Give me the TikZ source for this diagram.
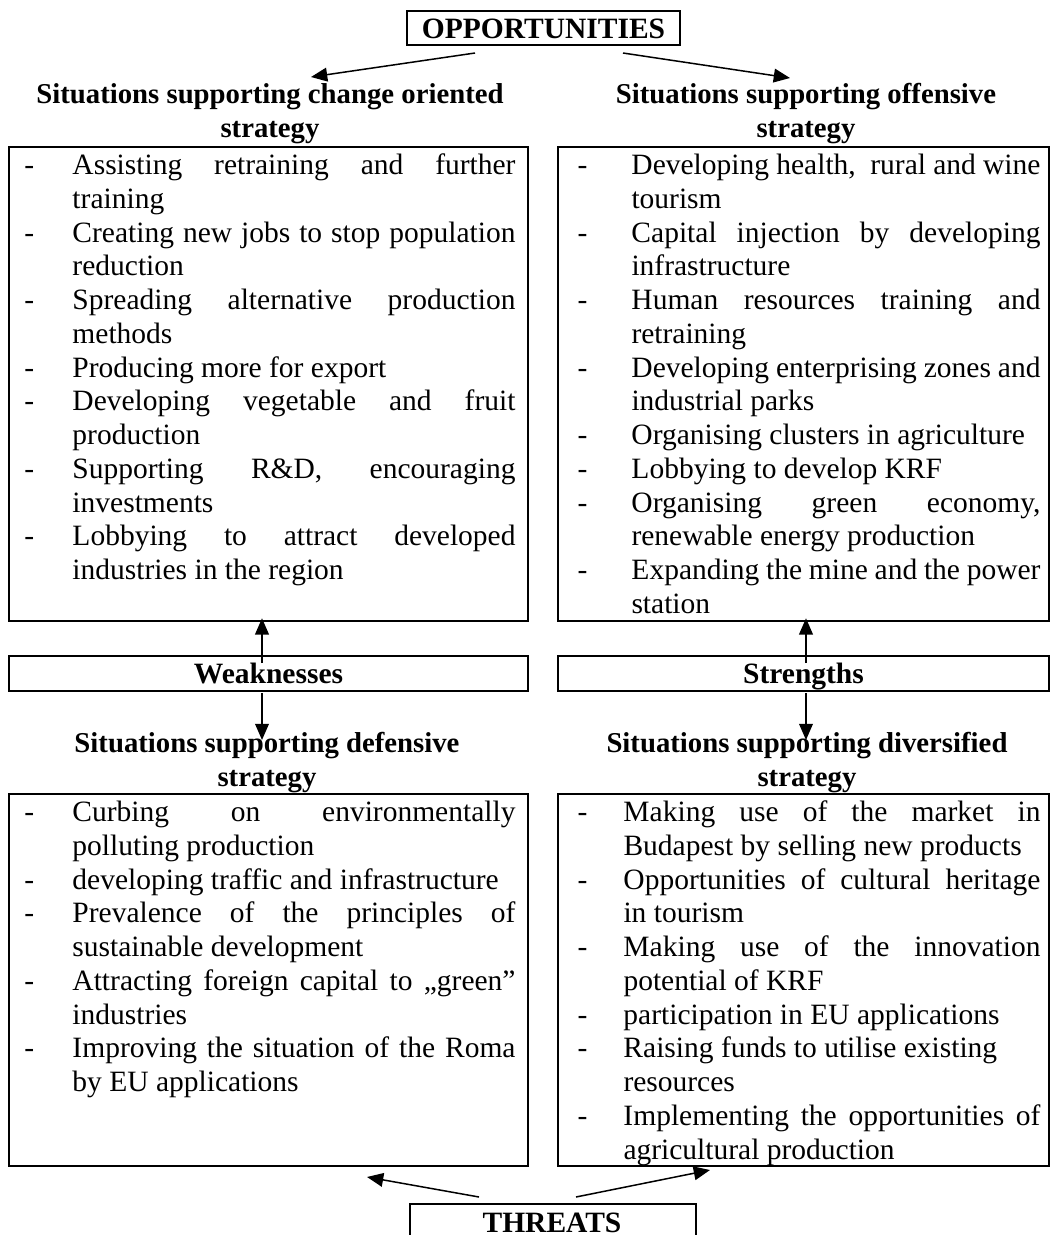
\documentclass[tikz,border=0pt]{standalone}
\usepackage{fontspec}
\setmainfont{Liberation Serif}
\usetikzlibrary{arrows.meta}
\newlength\tw \newlength\ind \newlength\dsh
\newcommand\Di{\strut\makebox[\ind][l]{\hspace*{\dsh}-}}
\newcommand\Ci{\strut\hspace*{\ind}}
\newcommand\J[1]{\makebox[\tw][s]{#1}}
\tikzset{
  box/.style={draw, line width=0.8pt, inner sep=0pt, anchor=north west},
  lbl/.style={font=\bfseries\fontsize{11.8}{13.5}\selectfont, text height=8pt, text depth=0pt, inner sep=0pt},
  lst/.style={anchor=north west, inner sep=0pt, align=left},
  lstA/.style={lst, font={\fontsize{11.8}{13.5}\selectfont\setlength\tw{177.2pt}\setlength\ind{25.6pt}\setlength\dsh{6.4pt}}},
  lstB/.style={lst, font={\fontsize{11.8}{13.5}\selectfont\setlength\tw{163.6pt}\setlength\ind{29.6pt}\setlength\dsh{8pt}}},
  lstC/.style={lst, font={\fontsize{11.8}{13.5}\selectfont\setlength\tw{166.8pt}\setlength\ind{26.4pt}\setlength\dsh{8pt}}},
  hdr/.style={anchor=north, inner sep=0pt, align=center, font=\bfseries\fontsize{11.5}{13.5}\selectfont},
  arr/.style={line width=0.6pt, -{Triangle[length=6.5pt,width=5.5pt]}}
}
\begin{document}
\begin{tikzpicture}[x=0.4pt,y=-0.4pt]
\useasboundingbox (0,0) rectangle (1050,1235);
\clip (0,0) rectangle (1050,1235);

% top label
\node[box, lbl, minimum width=109.2pt, minimum height=13.6pt] (opp) at (406,10) {OPPORTUNITIES};

% headers
\node[hdr] (h1) at (270,79.4) {\strut Situations supporting change oriented\\strategy};
\node[hdr] (h2) at (806,79.4) {\strut Situations supporting offensive\\strategy};
\node[hdr] (h3) at (267,728.4) {\strut Situations supporting defensive\\strategy};
\node[hdr] (h4) at (807,728.4) {\strut Situations supporting diversified\\strategy};

% boxes
\node[box, minimum width=207.6pt, minimum height=189.6pt] (tl) at (8,146) {};
\node[box, minimum width=196.4pt, minimum height=189.6pt] (tr) at (557,146) {};
\node[box, lbl, minimum width=207.6pt, minimum height=14pt] (wk) at (8,655) {Weaknesses};
\node[box, lbl, minimum width=196.4pt, minimum height=14pt] (st) at (557,655) {Strengths};
\node[box, minimum width=207.6pt, minimum height=148.8pt] (bl) at (8,793) {};
\node[box, minimum width=196.4pt, minimum height=148.8pt] (br) at (557,793) {};
\node[box, minimum width=114.4pt, minimum height=24pt] (thr) at (409,1203) {};
\node[lbl, anchor=base] (thrt) at (552,1232) {THREATS};

% list texts
\node[lstA] (tlt) at (8,150.4) {%
\Di\J{Assisting retraining and further}\\
\Ci training\\
\Di\J{Creating new jobs to stop population}\\
\Ci reduction\\
\Di\J{Spreading alternative production}\\
\Ci methods\\
\Di Producing more for export\\
\Di\J{Developing vegetable and fruit}\\
\Ci production\\
\Di\J{Supporting R\&D, encouraging}\\
\Ci investments\\
\Di\J{Lobbying to attract developed}\\
\Ci industries in the region};

\node[lstB] (trt) at (557,150.4) {%
\Di\J{Developing health,\ \ rural and wine}\\
\Ci tourism\\
\Di\J{Capital injection by developing}\\
\Ci infrastructure\\
\Di\J{Human resources training and}\\
\Ci retraining\\
\Di\J{Developing enterprising zones and}\\
\Ci industrial parks\\
\Di Organising clusters in agriculture\\
\Di Lobbying to develop KRF\\
\Di\J{Organising green economy,}\\
\Ci renewable energy production\\
\Di\J{Expanding the mine and the power}\\
\Ci station};

\node[lstA] (blt) at (8,797.4) {%
\Di\J{Curbing on environmentally}\\
\Ci polluting production\\
\Di developing traffic and infrastructure\\
\Di\J{Prevalence of the principles of}\\
\Ci sustainable development\\
\Di\J{Attracting foreign capital to „green”}\\
\Ci industries\\
\Di\J{Improving the situation of the Roma}\\
\Ci by EU applications};

\node[lstC] (brt) at (557,797.4) {%
\Di\J{Making use of the market in}\\
\Ci Budapest by selling new products\\
\Di\J{Opportunities of cultural heritage}\\
\Ci in tourism\\
\Di\J{Making use of the innovation}\\
\Ci potential of KRF\\
\Di participation in EU applications\\
\Di Raising funds to utilise existing\\
\Ci resources\\
\Di\J{Implementing the opportunities of}\\
\Ci agricultural production};

% connector end points
\coordinate (oL) at (475,53);
\coordinate (oLt) at (311,77);
\coordinate (oR) at (623,53);
\coordinate (oRt) at (790,78);
\coordinate (wU) at (262,663);
\coordinate (sU) at (806,663);
\coordinate (wD) at (262,693);
\coordinate (wDt) at (262,740);
\coordinate (sD) at (806,693);
\coordinate (sDt) at (806,740);
\coordinate (tL) at (479,1197);
\coordinate (tLt) at (367,1177);
\coordinate (tR) at (576,1197);
\coordinate (tRt) at (710,1170);

% connectors
\draw[arr] (oL) -- (oLt);
\draw[arr] (oR) -- (oRt);
\draw[arr, shorten >=-1.5pt] (wU) -- (wU |- tl.south);
\draw[arr, shorten >=-1.5pt] (sU) -- (sU |- tr.south);
\draw[arr] (wD) -- (wDt);
\draw[arr] (sD) -- (sDt);
\draw[arr] (tL) -- (tLt);
\draw[arr] (tR) -- (tRt);
\end{tikzpicture}
\end{document}
